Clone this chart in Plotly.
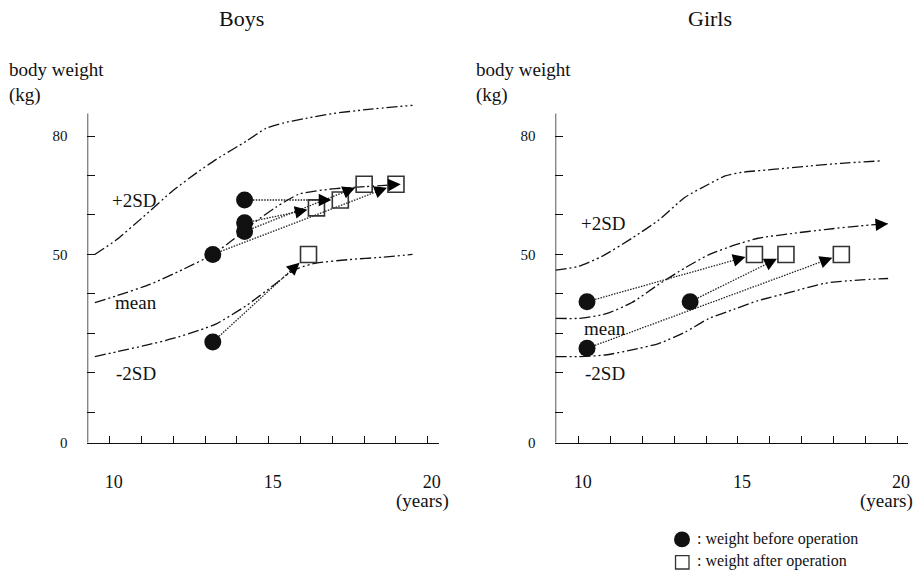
import math
import plotly.graph_objects as go

# ---------------- data ----------------
# Boys reference curves (age in years, body weight in kg)
boys_age_p2sd = [9.53, 10.21, 11.05, 11.99, 12.82, 13.35, 14.29, 14.92, 15.44, 16.17, 17.0, 18.05, 19.52]
boys_wt_p2sd = [50.0, 53.7, 59.5, 66.2, 71.2, 74.1, 78.7, 82.0, 83.3, 84.5, 85.7, 86.7, 87.8]
boys_age_mean = [9.53, 10.21, 11.26, 12.3, 13.24, 13.87, 14.5, 15.23, 15.96, 17.0, 18.05, 19.15]
boys_wt_mean = [37.8, 39.5, 42.4, 46.2, 50.0, 53.7, 57.8, 62.0, 65.3, 66.6, 67.2, 67.8]
boys_age_m2sd = [9.53, 10.21, 11.15, 11.99, 12.82, 13.35, 14.29, 15.12, 15.65, 15.96, 16.49, 17.53, 18.58, 19.52]
boys_wt_m2sd = [24.1, 25.3, 27.0, 28.7, 30.8, 32.4, 37.0, 42.0, 45.3, 46.6, 47.8, 48.7, 49.3, 50.0]

# Boys patients (before -> after operation), paired by index
boys_age_before = [13.24, 13.24, 14.24, 14.24, 14.24]
boys_wt_before = [27.8, 50.0, 63.8, 58.0, 55.8]
boys_age_after = [16.25, 19.0, 17.25, 16.5, 18.0]
boys_wt_after = [50.0, 67.8, 63.8, 61.8, 67.8]

# Girls reference curves
girls_age_p2sd = [9.27, 10.0, 10.73, 11.67, 12.51, 13.34, 14.08, 14.6, 15.12, 16.17, 17.21, 18.25, 19.46]
girls_wt_p2sd = [46.0, 47.0, 49.5, 54.1, 58.7, 64.5, 67.8, 69.9, 70.8, 71.6, 72.4, 73.1, 73.7]
girls_age_mean = [9.27, 10.0, 10.84, 11.67, 12.51, 13.34, 14.08, 14.91, 15.64, 16.69, 17.73, 18.78, 19.72]
girls_wt_mean = [33.8, 33.8, 34.9, 37.8, 42.4, 46.6, 49.9, 52.4, 54.1, 55.3, 56.3, 57.2, 57.8]
girls_age_m2sd = [9.27, 10.0, 10.84, 11.67, 12.51, 13.34, 14.08, 14.91, 15.64, 16.69, 17.73, 18.78, 19.72]
girls_wt_m2sd = [24.1, 24.1, 24.5, 25.8, 27.4, 30.3, 33.7, 36.2, 38.3, 40.5, 42.7, 43.5, 43.9]

# Girls patients
girls_age_before = [10.26, 13.5, 10.26]
girls_wt_before = [38.0, 38.0, 26.2]
girls_age_after = [15.52, 16.51, 18.25]
girls_wt_after = [50.0, 50.0, 50.0]

# Axis ticks
x_tick_vals = list(range(10, 21))
x_tick_text = ["10", "", "", "", "", "15", "", "", "", "", "20"]
Y_ORIGIN = 2.25          # bottom of the (broken) weight axis, labelled "0"
Y_AXIS_TOP = 85.75
y_tick_vals = [Y_ORIGIN, 10, 20, 30, 40, 50, 60, 70, 80]
y_tick_text = ["0", "", "", "", "", "50", "", "", "80"]

# ---------------- layout geometry ----------------
W, H = 917, 578
FONT = "Liberation Serif"
INK = "#111111"

Y_RANGE = [Y_ORIGIN, 90.0]
PX_PER_KG = 4.0
Y50_PX = 258.0
y_bot_px = Y50_PX + (50 - Y_RANGE[0]) * PX_PER_KG
y_top_px = Y50_PX - (Y_RANGE[1] - 50) * PX_PER_KG
Y_DOMAIN = [1 - y_bot_px / H, 1 - y_top_px / H]

panels = {
    "boys": dict(xr=[9.3, 20.35], x10=110.0, ppy=31.87),
    "girls": dict(xr=[9.27, 20.33], x10=580.0, ppy=31.9),
}
for p in panels.values():
    l = p["x10"] + (p["xr"][0] - 10) * p["ppy"]
    r = p["x10"] + (p["xr"][1] - 10) * p["ppy"]
    p["domain"] = [l / W, r / W]


def px(x):
    return x / W


def py(y):
    return 1 - y / H


fig = go.Figure()
annotations = []

curve_dash = "11px,3px,2px,3px,2px,3px"
curve_line = dict(color=INK, width=1.3, dash=curve_dash, shape="spline", smoothing=0.6)


def arrowhead(x_tip, y_tip, ux, uy, xa, ya):
    """Filled arrowhead at (x_tip, y_tip) pointing along pixel-space unit vector (ux, uy)."""
    L = 12.0
    annotations.append(dict(
        x=x_tip, y=y_tip, xref=xa, yref=ya, ax=-ux * L, ay=uy * L,
        axref="pixel", ayref="pixel", showarrow=True, arrowhead=2,
        arrowsize=2.1, arrowwidth=1.2, arrowcolor="#000", text="", standoff=0))


def add_curve(xs, ys, xa, ya, key, arrow=False):
    fig.add_trace(go.Scatter(x=xs, y=ys, mode="lines", line=curve_line, xaxis=xa, yaxis=ya,
                             hoverinfo="skip", showlegend=False, cliponaxis=False))
    if arrow:
        sx, sy = panels[key]["ppy"], PX_PER_KG
        dx = (xs[-1] - xs[-2]) * sx
        dy = (ys[-1] - ys[-2]) * sy
        L = math.hypot(dx, dy)
        arrowhead(xs[-1], ys[-1], dx / L, dy / L, xa, ya)


SQ = 16
CIRC = 17


def add_patients(xb, yb, xa_, ya_, key, xa, ya):
    sx = panels[key]["ppy"]
    sy = PX_PER_KG
    half = SQ / 2 + 1.0
    for x0, y0, x1, y1 in zip(xb, yb, xa_, ya_):
        dx = (x1 - x0) * sx
        dy = (y1 - y0) * sy
        L = math.hypot(dx, dy)
        ux, uy = dx / L, dy / L
        d = half / max(abs(ux), abs(uy))
        tx = x1 - ux * d / sx
        ty = y1 - uy * d / sy
        # dotted line stops a little before the tip (the head covers the rest)
        lx = tx - ux * 7 / sx
        ly = ty - uy * 7 / sy
        fig.add_trace(go.Scatter(
            x=[x0, lx], y=[y0, ly], mode="lines",
            line=dict(color="#222", width=1.3, dash="1.5px,1.3px"),
            xaxis=xa, yaxis=ya, hoverinfo="skip", showlegend=False, cliponaxis=False))
        arrowhead(tx, ty, ux, uy, xa, ya)
    fig.add_trace(go.Scatter(
        x=xa_, y=ya_, mode="markers",
        marker=dict(symbol="square-open", size=SQ, color="#333", line=dict(width=1.6, color="#333")),
        xaxis=xa, yaxis=ya, showlegend=False, cliponaxis=False))
    fig.add_trace(go.Scatter(
        x=xb, y=yb, mode="markers",
        marker=dict(symbol="circle", size=CIRC, color="#111", line=dict(width=0)),
        xaxis=xa, yaxis=ya, showlegend=False, cliponaxis=False))


# Boys
add_curve(boys_age_p2sd, boys_wt_p2sd, "x", "y", "boys")
add_curve(boys_age_mean, boys_wt_mean, "x", "y", "boys", arrow=True)
add_curve(boys_age_m2sd, boys_wt_m2sd, "x", "y", "boys")
add_patients(boys_age_before, boys_wt_before, boys_age_after, boys_wt_after, "boys", "x", "y")

# Girls
add_curve(girls_age_p2sd, girls_wt_p2sd, "x2", "y2", "girls")
add_curve(girls_age_mean, girls_wt_mean, "x2", "y2", "girls", arrow=True)
add_curve(girls_age_m2sd, girls_wt_m2sd, "x2", "y2", "girls")
add_patients(girls_age_before, girls_wt_before, girls_age_after, girls_wt_after, "girls", "x2", "y2")


def xaxis_cfg(key, anchor):
    return dict(domain=panels[key]["domain"], range=panels[key]["xr"], anchor=anchor,
                showline=True, linecolor=INK, linewidth=1.4, mirror=False,
                ticks="inside", ticklen=7, tickwidth=1.2, tickcolor=INK,
                tickvals=x_tick_vals, ticktext=x_tick_text, ticklabelstandoff=22,
                ticklabelshift=4,
                tickfont=dict(family=FONT, size=18, color=INK),
                showgrid=False, zeroline=False, fixedrange=True)


def yaxis_cfg(anchor):
    return dict(domain=Y_DOMAIN, range=Y_RANGE, anchor=anchor,
                showline=False, ticks="inside", ticklen=8, tickwidth=1.2, tickcolor=INK,
                tickvals=y_tick_vals, ticktext=y_tick_text, ticklabelstandoff=19,
                tickfont=dict(family=FONT, size=15, color=INK),
                showgrid=False, zeroline=False, fixedrange=True)


shapes = []
for key, xr, yr in (("boys", "x", "y"), ("girls", "x2", "y2")):
    x0 = panels[key]["xr"][0]
    shapes.append(dict(type="line", xref=xr, yref=yr, x0=x0, x1=x0, y0=Y_ORIGIN, y1=Y_AXIS_TOP,
                       line=dict(color=INK, width=1.4)))

# legend symbols
shapes.append(dict(type="circle", xref="paper", yref="paper",
                   x0=px(675.5), x1=px(691.5), y0=py(555), y1=py(539),
                   fillcolor="#111", line=dict(width=0)))
shapes.append(dict(type="rect", xref="paper", yref="paper",
                   x0=px(677), x1=px(690.5), y0=py(577), y1=py(563.5),
                   fillcolor="rgba(0,0,0,0)", line=dict(color="#333", width=1.3)))


def text(t, x, y, size, xanchor="center", yanchor="middle"):
    annotations.append(dict(text=t, x=px(x), y=py(y), xref="paper", yref="paper",
                            xanchor=xanchor, yanchor=yanchor, showarrow=False,
                            font=dict(family=FONT, size=size, color=INK)))


text("Boys", 241.7, 18.5, 22)
text("Girls", 712, 18.5, 22)
text("body weight", 7, 70, 19, xanchor="left")
text("(kg)", 7, 96, 19, xanchor="left")
text("body weight", 475.5, 70, 19, xanchor="left")
text("(kg)", 475.5, 96, 19, xanchor="left")
text("+2SD", 135, 203, 19)
text("mean", 136.3, 307, 19)
text("-2SD", 136.3, 379, 19)
text("+2SD", 605.3, 227, 19)
text("mean", 606.7, 333, 19)
text("-2SD", 606.7, 379, 19)
text("(years)", 423, 508, 19)
text("(years)", 888, 508, 19)
text(": weight before operation", 697, 547, 16, xanchor="left")
text(": weight after operation", 697, 569, 16, xanchor="left")

fig.update_layout(
    width=W, height=H, autosize=False,
    margin=dict(l=0, r=0, t=0, b=0),
    paper_bgcolor="white", plot_bgcolor="white",
    showlegend=False,
    xaxis=xaxis_cfg("boys", "y"), yaxis=yaxis_cfg("x"),
    xaxis2=xaxis_cfg("girls", "y2"), yaxis2=yaxis_cfg("x2"),
    shapes=shapes, annotations=annotations,
    font=dict(family=FONT, color=INK),
)

fig.write_html("out.html")
